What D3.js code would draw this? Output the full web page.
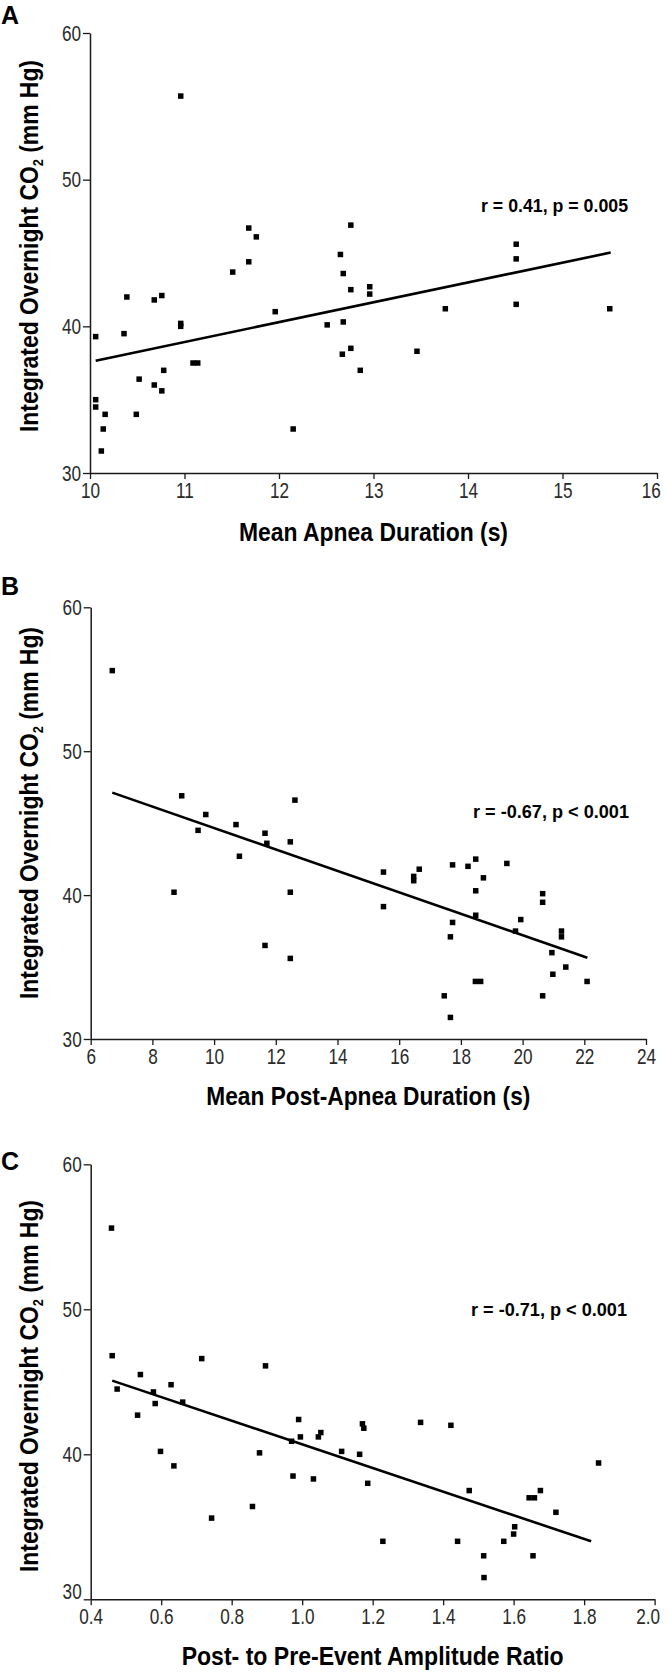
<!DOCTYPE html>
<html><head><meta charset="utf-8">
<script src="https://cdn.jsdelivr.net/npm/d3@7"></script>
<style>
html,body{margin:0;padding:0;background:#fff;}
svg{display:block;}
</style></head>
<body>
<div id="chart"></div>
<script>
// ---------- DATA ----------
const yTicks = [30, 40, 50, 60];

// Panel A: Mean Apnea Duration (s)
const aTicks = [10, 11, 12, 13, 14, 15, 16];
const aX = [10.96,11.68,11.76,11.68,11.51,12.76,12.65,12.68,14.51,14.51,10.06,10.39,10.68,10.76,10.36,10.96,10.96,11.96,12.51,11.09,11.14,10.78,10.52,10.68,10.76,10.06,10.06,10.16,10.49,10.14,10.12,12.15,12.76,12.96,12.96,12.68,12.67,12.76,12.86,13.46,13.76,14.51,15.5];
const aY = [55.7,46.7,46.1,44.4,43.7,46.9,44.9,43.6,45.6,44.6,39.3,42.0,41.8,42.1,39.5,40.2,40.0,41.0,40.1,37.5,37.5,37.0,36.4,36.0,35.6,35.0,34.5,34.0,34.0,33.0,31.5,33.0,42.5,42.7,42.2,40.3,38.1,38.5,37.0,38.3,41.2,41.5,41.2];
const aFitX = [10.06, 15.51];
const aFitY = [37.66, 45.03];

// Panel B: Mean Post-Apnea Duration (s)
const bTicks = [6, 8, 10, 12, 14, 16, 18, 20, 22, 24];
const bX = [6.70,8.95,12.62,9.73,9.48,10.71,11.65,11.71,12.47,10.82,8.70,12.47,11.65,12.47,15.49,15.49,16.47,16.47,16.65,17.73,18.23,18.48,19.49,18.73,18.48,18.48,17.73,17.66,19.94,19.77,20.65,20.65,21.26,21.26,20.95,21.40,20.98,18.47,18.64,22.09,17.46,20.65,17.66];
const bY = [55.6,46.9,46.6,45.6,44.5,44.9,44.3,43.6,43.7,42.7,40.2,40.2,36.5,35.6,41.6,39.2,41.3,41.0,41.8,42.1,42.0,42.5,42.2,41.2,40.3,38.6,38.1,37.1,38.3,37.5,40.1,39.5,37.5,37.1,36.0,35.0,34.5,34.0,34.0,34.0,33.0,33.0,31.5];
const bFitX = [6.70, 22.10];
const bFitY = [47.12, 35.65];

// Panel C: Post- to Pre-Event Amplitude Ratio
const cTicks = [0.4, 0.6, 0.8, 1.0, 1.2, 1.4, 1.6, 1.8, 2.0];
const cX = [0.459,0.461,0.715,0.896,0.541,0.475,0.628,0.578,0.583,0.661,0.533,0.990,1.171,1.175,1.336,1.422,1.053,1.046,0.995,0.970,0.598,0.879,1.112,1.163,0.636,1.841,0.974,1.032,1.186,1.474,1.676,1.644,1.659,1.720,0.859,0.743,1.603,1.600,1.229,1.441,1.572,1.515,1.655,1.516];
const cY = [55.6,46.8,46.6,46.1,45.5,44.5,44.8,44.3,43.5,43.6,42.7,42.4,42.1,41.8,42.2,42.0,41.5,41.2,41.2,40.9,40.2,40.1,40.2,40.0,39.2,39.4,38.5,38.3,38.0,37.5,37.5,37.0,37.0,36.0,36.4,35.6,35.0,34.5,34.0,34.0,34.0,33.0,33.0,31.5];
const cFitX = [0.461, 1.82];
const cFitY = [45.08, 34.0];

const letters = ["A", "B", "C"];
const xTitles = ["Mean Apnea Duration (s)", "Mean Post-Apnea Duration (s)", "Post- to Pre-Event Amplitude Ratio"];
const stats = ["r = 0.41, p = 0.005", "r = -0.67, p < 0.001", "r = -0.71, p < 0.001"];

// ---------- LAYOUT ----------
const W = 668, H = 1675;
const boldFont = "'Liberation Sans Narrow','Arial Narrow','Liberation Sans',Arial,sans-serif";
const tickFont = "'Liberation Sans Narrow','Arial Narrow','Liberation Sans',Arial,sans-serif";

const panels = [
  { xs: aX, ys: aY, fx: aFitX, fy: aFitY, ticks: aTicks, fmt: d3.format("d"),
    xDom: [10, 16], xR: [90, 657], yR: [473, 33], y30Shift: 0,
    letterPos: [1, 24], xTitleY: 541, xTitleW: 269, yTitleC: 246,
    statPos: [481, 212], statW: 147 },
  { xs: bX, ys: bY, fx: bFitX, fy: bFitY, ticks: bTicks, fmt: d3.format("d"),
    xDom: [6, 24], xR: [90.7, 646], yR: [1039, 607.3], y30Shift: 0,
    letterPos: [1, 595], xTitleY: 1105, xTitleW: 324, yTitleC: 813,
    statPos: [473, 818], statW: 156 },
  { xs: cX, ys: cY, fx: cFitX, fy: cFitY, ticks: cTicks, fmt: d3.format(".1f"),
    xDom: [0.4, 2.0], xR: [90.7, 654.6], yR: [1599.3, 1164.3], y30Shift: -8,
    letterPos: [1, 1170], xTitleY: 1665, xTitleW: 382, yTitleC: 1386,
    statPos: [471, 1316], statW: 156 }
];

const svg = d3.select("#chart").append("svg")
  .attr("width", W).attr("height", H)
  .attr("viewBox", `0 0 ${W} ${H}`);

function condense(sel, factor) {
  sel.each(function () {
    const len = this.getComputedTextLength();
    this.__natural = len;
    d3.select(this).attr("textLength", len * factor).attr("lengthAdjust", "spacingAndGlyphs");
  });
}

panels.forEach((p, i) => {
  const x = d3.scaleLinear().domain(p.xDom).range(p.xR);
  const y = d3.scaleLinear().domain([30, 60]).range(p.yR);
  const g = svg.append("g");

  // axes
  const xAxis = g.append("g")
    .attr("transform", `translate(0,${p.yR[0]})`)
    .call(d3.axisBottom(x).tickValues(p.ticks).tickFormat(p.fmt)
      .tickSize(6).tickSizeOuter(0).tickPadding(3));
  const yAxis = g.append("g")
    .attr("transform", `translate(${p.xR[0]},0)`)
    .call(d3.axisLeft(y).tickValues(yTicks).tickFormat(d3.format("d"))
      .tickSize(7).tickSizeOuter(0).tickPadding(2));

  [xAxis, yAxis].forEach(ax => {
    ax.select(".domain").attr("stroke", "#1a1a1a").attr("stroke-width", 1.5);
    ax.selectAll(".tick line").attr("stroke", "#1a1a1a").attr("stroke-width", 1.3);
    const t = ax.selectAll(".tick text")
      .attr("fill", "#2a2a2a")
      .style("font-family", tickFont)
      .style("font-size", "22px")
      .style("font-weight", "300");
    condense(t, 0.78);
  });
  // lowest y label sits slightly above the x axis in panel C
  yAxis.selectAll(".tick").filter(d => d === 30).select("text")
    .attr("y", p.y30Shift);

  // keep the right-most x label inside the page
  xAxis.selectAll(".tick text").each(function (d) {
    const half = (this.__natural || this.getComputedTextLength()) / 2;
    const over = x(d) + half - (W - 5);
    if (over > 0) d3.select(this).attr("x", -over);
  });

  // points
  const pts = p.xs.map((v, k) => [v, p.ys[k]]);
  const s = 5.5;
  g.append("g").selectAll("rect").data(pts).join("rect")
    .attr("x", d => x(d[0]) - s / 2)
    .attr("y", d => y(d[1]) - s / 2)
    .attr("width", s).attr("height", s)
    .attr("fill", "#000");

  // fit line
  const fit = p.fx.map((v, k) => [v, p.fy[k]]);
  g.append("path")
    .datum(fit)
    .attr("d", d3.line().x(d => x(d[0])).y(d => y(d[1])))
    .attr("fill", "none").attr("stroke", "#000").attr("stroke-width", 2.6);

  // panel letter
  g.append("text")
    .attr("x", p.letterPos[0]).attr("y", p.letterPos[1])
    .style("font-family", "'Liberation Sans',Arial,sans-serif")
    .style("font-weight", "bold").style("font-size", "25px")
    .attr("fill", "#000")
    .text(letters[i]);

  // x title
  const xMid = (p.xR[0] + p.xR[1]) / 2;
  g.append("text")
    .attr("x", xMid).attr("y", p.xTitleY)
    .attr("text-anchor", "middle")
    .attr("textLength", p.xTitleW).attr("lengthAdjust", "spacingAndGlyphs")
    .style("font-family", boldFont).style("font-weight", "bold").style("font-size", "25px")
    .attr("fill", "#000")
    .text(xTitles[i]);

  // y title
  const yt = g.append("text")
    .attr("transform", `translate(38,${p.yTitleC}) rotate(-90)`)
    .attr("text-anchor", "middle")
    .attr("textLength", 372).attr("lengthAdjust", "spacingAndGlyphs")
    .style("font-family", boldFont).style("font-weight", "bold").style("font-size", "25px")
    .attr("fill", "#000");
  yt.append("tspan").text("Integrated Overnight CO");
  yt.append("tspan").attr("dy", 5).style("font-size", "14px").text("2");
  yt.append("tspan").attr("dy", -5).text(" (mm Hg)");

  // stat annotation
  g.append("text")
    .attr("x", p.statPos[0]).attr("y", p.statPos[1])
    .attr("textLength", p.statW).attr("lengthAdjust", "spacingAndGlyphs")
    .style("font-family", boldFont).style("font-weight", "bold").style("font-size", "19px")
    .attr("fill", "#000")
    .text(stats[i]);
});
</script>
</body></html>
